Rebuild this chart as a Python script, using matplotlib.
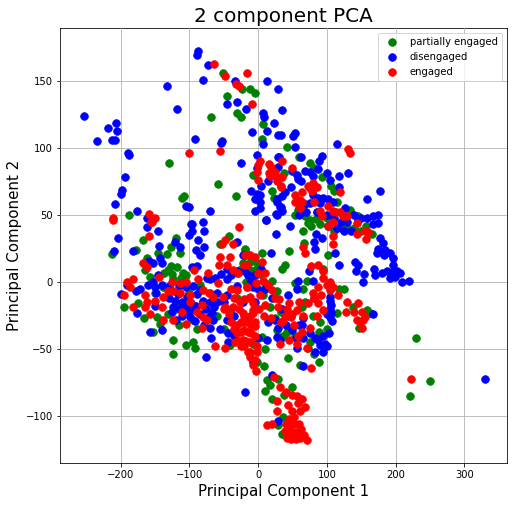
import matplotlib
matplotlib.use("Agg")
import matplotlib.pyplot as plt
import numpy as np

targets = ['partially engaged', 'disengaged', 'engaged']
colors = ['g', 'b', 'r']

green = [(-51,156),(-23,144),(-11,144),(-4,141),(-45,139),(-31,126),(-25,123),(-68,123),(7,118),(6,107),
(-130,89),(-58,73),(-111,63),(-108,64),(-32,64),(-7,80),(21,68),(23,63),(-188,50),(42,101),(59,93),(75,89),
(82,85),(93,78),(106,72),(111,68),(38,81),(115,60),(54,50),(68,49),(76,46),(77,42),(90,43),(134,54),(145,49),
(157,42),(58,54),(-167,31),(-212,21),(-178,24),(-119,33),(-127,26),(-114,22),(-132,21),(-162,18),(-146,22),
(-164,9),(-157,4),(-131,9),(-118,11),(-109,7),(-125,6),(-112,3),(-138,-4),(-175,-16),(-195,-19),(-166,-27),
(-147,-26),(-143,-31),(-131,-24),(-153,-37),(-115,-32),(-89,-35),(-124,-43),(-105,-47),(-95,-45),(-92,-49),
(-124,-54),(-49,-35),(-41,-47),(-42,34),(-55,28),(-19,25),(-12,9),(-1,14),(-31,7),(-7,4),(45,23),(67,29),
(102,20),(39,13),(35,10),(54,-1),(71,1),(66,-5),(64,-19),(68,-15),(115,-23),(118,-5),(138,-19),(163,-23),
(159,-21),(147,-34),(89,-37),(89,-60),(81,-54),(44,-57),(61,-62),(10,-50),(9,-63),(-1,-60),(13,-73),(29,-72),
(17,-77),(10,-81),(49,-78),(20,-87),(38,-84),(36,-101),(29,-107),(35,-113),(221,-85),(230,-42),(250,-74),
(28,-36),(37,-40),(25,-27),(-7,-46),(6,-41),(-19,24),(6,22),(-22,14),(-14,5),(20,1),(27,-7),(8,0),(-4,-2),
(7,-10),(17,-19),(33,-22),(73,-49),(42,-37),(54,-40),(-80,-15),(-70,-8),(-60,-25),(-100,-8),(-85,-2),(-40,-20),
(-30,-12),(-20,-30),(85,52),(100,48),(120,40),(65,38),(95,10),(125,-5),(-150,-8),(-120,-18),(-95,-28),
(-137,7),(-127,12),(-123,2),(-105,5),(-25,10),(-12,15),(-5,9),(3,6),(-18,0),(12,-3),(60,55),(72,44),(84,47),
(110,38),(128,42),(140,40),(150,38),(165,36),(90,-30),(100,-35),(80,-25),(75,-45)]

blue = [(-87,172),(-89,169),(-73,162),(-80,151),(-132,146),(-118,129),(-253,124),(-207,119),(-218,115),(-205,113),
(-234,105),(-212,106),(-208,106),(-189,96),(-187,95),(-194,78),(-198,69),(-199,66),(-208,58),(-176,53),(-162,48),
(-162,41),(-105,57),(-100,56),(-70,53),(-97,43),(-80,45),(-92,107),(-54,104),(-52,105),(-33,150),(13,150),(29,144),
(-30,134),(-45,133),(-17,129),(7,126),(9,123),(23,119),(13,113),(-9,112),(29,110),(7,103),(-1,95),(-25,89),(29,93),
(-1,85),(29,86),(15,75),(4,72),(-10,68),(-2,66),(3,65),(-4,62),(3,60),(28,62),(33,56),(-4,53),(3,55),(28,50),(11,46),
(35,128),(33,110),(51,109),(53,111),(54,101),(115,103),(31,93),(63,93),(88,90),(93,94),(68,83),(75,82),(80,79),
(87,84),(49,83),(56,80),(58,77),(62,75),(100,81),(104,76),(118,79),(131,81),(118,71),(178,68),(159,62),(48,71),
(39,67),(35,64),(27,60),(32,56),(35,53),(26,51),(12,46),(46,42),(76,70),(80,65),(87,63),(95,63),(102,62),(109,60),
(90,59),(75,59),(68,58),(127,55),(139,50),(158,48),(167,49),(175,50),(167,43),(175,44),(102,42),
(-146,38),(-204,33),(-182,23),(-210,23),(-96,43),(-100,35),(-96,38),(-79,38),(-88,31),(-121,30),(-114,26),(-144,27),
(-79,26),(-85,20),(-90,24),(-153,14),(-143,18),(-140,14),(-159,16),(-96,11),(-89,12),(-153,0),(-150,-4),(-191,-2),
(-178,-7),(-199,-9),(-176,-23),(-157,-37),(-140,-36),(-124,-19),(-121,-14),(-117,-9),(-103,-11),(-89,-9),(-74,3),
(-62,3),(-54,6),(-45,2),(-99,-26),(-92,-29),(-95,-20),(-67,-23),(-64,-19),(-70,-34),(-44,-38),(-68,-42),(-76,-56),
(-44,-45),(-22,20),(-31,30),(-7,-4),(-22,-15),(-45,-28),(-7,-60),(-110,-25),(-98,-16),(-80,-14),(-85,-6),
(26,36),(84,36),(93,33),(83,25),(82,30),(112,22),(19,22),(117,13),(141,15),(146,13),(142,8),(154,6),(153,0),(74,8),
(58,1),(80,1),(56,-5),(44,-10),(82,-12),(66,-27),(29,-34),(25,-28),(13,-43),(28,-41),(32,-43),(49,-36),(64,-32),
(57,-49),(83,-52),(83,-42),(87,-43),(95,-40),(103,-38),(98,-46),(90,-47),(66,-63),(20,-69),(-19,-82),(29,-104),
(105,-11),(105,-14),(106,-17),(105,-20),(106,-23),(105,-26),(108,-29),(100,-24),(167,-24),(178,33),(182,29),(175,25),
(185,24),(173,22),(183,20),(192,22),(196,18),(196,13),(197,8),(169,10),(170,5),(180,7),(188,8),(195,5),(202,8),
(207,7),(210,0),(220,1),(192,3),(199,4),(330,-72),(-19,20),(-45,10),(-15,5),(-5,-15),(-30,-3),(10,-5),(15,-30),
(-60,-8),(-50,-15),(-35,-25),(60,-32),(100,-48),(-5,5),(5,10),
(-125,-22),(-115,-20),(-110,-15),(-105,-18),(-100,-22),(-90,-18),(-85,-24),(-75,-20),(-70,-15),(-72,-26),(-65,-28),
(-78,-32),(-60,-15),(-95,-3),(-105,-4),(-115,-3),(-130,-3),(-140,-2),(-148,-8),(-145,5),(-70,2),(-160,-2),(-172,-5),
(-120,-28),(-130,-12),(-40,5),(-30,8),(-20,8),(-10,1),(0,-5),(20,-12),(35,-20),(40,-32),(55,-42),(45,-25),(65,-42),
(100,50),(110,48),(120,45),(130,45),(145,46),(150,48),(115,40),(125,38),(135,38),(85,52),(70,52),(60,50),(-150,-18),
(-55,-35),(-35,-40),(0,-42),(-45,-10),(95,-52),(75,-38)]

red = [(-64,163),(-48,154),(-16,156),(-32,148),(-27,146),(-9,133),(-100,96),(-55,98),(0,87),(3,90),(16,88),(19,86),
(17,79),(25,79),(0,76),(27,75),(33,71),(-1,82),(-159,51),(-150,48),(-155,45),(-211,48),(-28,41),(131,99),(134,96),
(35,90),(50,85),(25,82),(16,81),(35,78),(28,78),(33,72),(73,72),(80,74),(85,71),(79,68),(119,67),(64,67),(54,65),
(61,61),(54,60),(64,60),(61,55),(82,60),(102,57),(90,53),(109,53),(93,49),(119,52),(130,49),(109,45),(144,44),
(102,42),(114,52),(123,49),(-211,46),(-154,45),(-159,34),(-167,14),(-162,11),(-144,4),(-182,2),(-191,0),(-186,-4),
(-195,-10),(-164,-10),(-162,-15),(-150,-14),(-182,-19),(-164,-19),(-157,-24),(-140,-19),(-138,-11),(-131,-7),
(-124,-7),(-114,-8),(-125,0),(-114,-1),(-105,0),(-87,2),(-93,9),(-73,7),(-58,-1),(-138,-28),(-124,-28),(-105,-31),
(-111,-22),(-99,-10),(-99,-15),(-89,-22),(-82,-17),(-80,-26),(-74,-28),(-82,-34),(-80,-6),(-72,-8),(-66,-11),(-63,-48),
(-48,-49),(-48,31),(-52,28),(-36,28),(-55,19),(-41,19),(-57,13),(-45,13),(-36,9),(-29,7),(-16,13),(-12,20),(-4,19),
(-51,-11),(-48,-19),(-31,-6),(-26,-15),(-36,-19),(-16,-4),(-12,-11),(-7,-21),(-50,-20),(-42,-24),
(-30,-32),(-25,-30),(-20,-30),(-15,-30),(-10,-32),(-5,-33),(-30,-38),(-25,-37),(-20,-36),(-15,-37),(-10,-38),(-5,-40),
(-28,-44),(-22,-43),(-17,-44),(-12,-45),(-25,-48),(-5,-30),(-20,-48),(-12,-52),(-11,-56),(-4,-58),
(144,36),(160,37),(155,38),(157,32),(109,34),(109,28),(66,26),(68,22),(77,12),(87,13),(95,8),(95,3),(105,0),(105,-6),
(109,-4),(87,-4),(116,-10),(129,-15),(128,-22),(146,-16),(151,-22),(144,-28),(155,-26),(151,-34),(153,-28),(82,-12),
(87,-16),(95,-21),(73,-16),(45,-16),(29,-19),(31,-13),(39,-25),(48,-26),(50,-24),(56,-21),(36,-29),(19,-27),(76,-34),
(64,-37),(58,-40),(57,-46),(45,-43),(32,-46),(71,-49),(77,-64),(23,-71),(32,-78),(41,-82),(50,-84),(57,-85),(64,-87),
(58,-90),(28,-89),(44,-92),(68,-93),(28,-96),(50,-96),(61,-96),(13,-107),(20,-106),
(45,-102),(52,-101),(40,-106),(47,-107),(54,-106),(60,-106),(39,-111),(45,-112),(51,-112),(57,-112),(63,-110),
(42,-116),(48,-117),(55,-117),(61,-116),(67,-114),(71,-118),(-19,20),(-20,13),(6,15),(0,7),(10,7),(7,1),(15,-2),(20,-6),
(-3,-1),(-16,-4),(3,-10),(-13,-12),(-8,-16),(-7,-23),(10,-17),(-20,-13),(-22,-23),(222,-72),(-8,-62),(-3,-66),(-1,-52),
(-40,-5),(-35,-12),(-28,-20),(-20,-25),(-12,-25),(-40,-30),(-35,-35),(-33,-45),(-15,-52),(-2,-48),(60,-15),(65,-25),
(52,-32),(42,-20),(33,-30),(25,-12),(2,-20),(8,-25),(100,-2),(92,-10),(80,-8),(140,-22),(148,-30),(85,-25)]

fig = plt.figure(figsize=(514 / 72, 506 / 72), dpi=72)
ax = fig.add_axes([60 / 514, 1 - 463 / 506, 447 / 514, 435 / 506])
ax.set_title('2 component PCA', fontsize=20)
ax.set_xlabel('Principal Component 1', fontsize=15)
ax.set_ylabel('Principal Component 2', fontsize=15)
for label, col, pts in zip(targets, colors, [green, blue, red]):
    arr = np.array(pts)
    ax.scatter(arr[:, 0], arr[:, 1], c=col, s=58, linewidths=0.8, label=label, zorder=3 + colors.index(col))
ax.set_xlim(-288, 362)
ax.set_ylim(-135, 189.5)
ax.legend(loc='upper right')
ax.grid(True)
ax.set_axisbelow(False)
fig.savefig('out.png', dpi=72, facecolor='white')
